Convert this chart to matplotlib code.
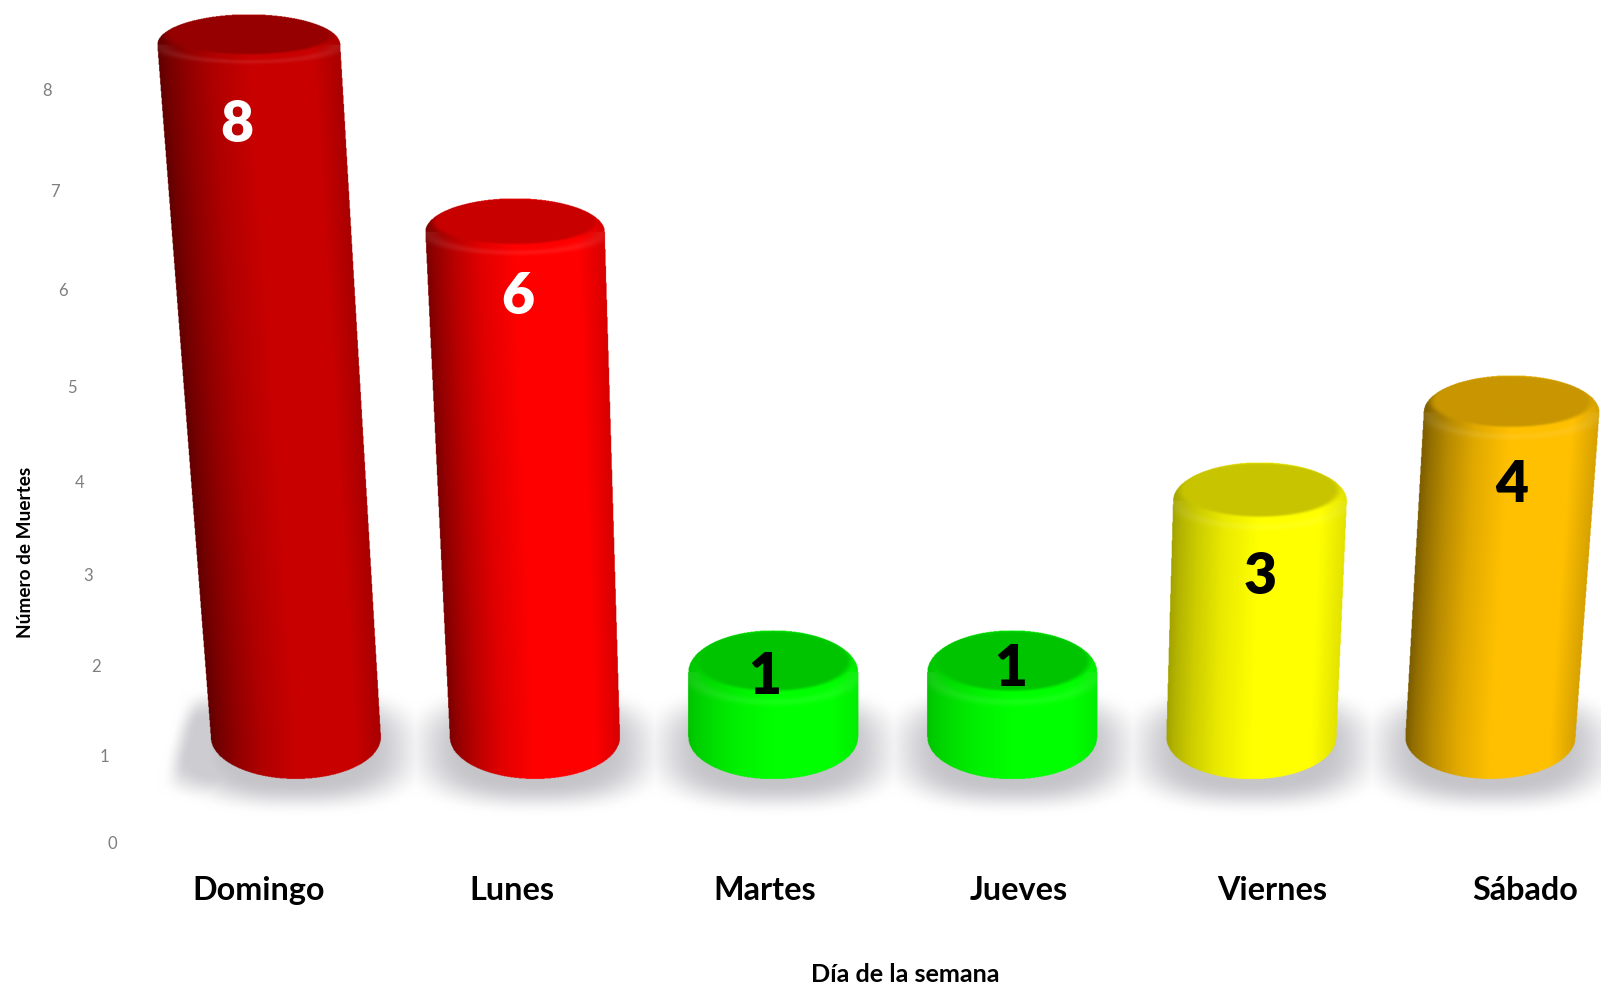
import numpy as np
import matplotlib
matplotlib.use('Agg')
import matplotlib.pyplot as plt
from matplotlib.colors import to_rgb

plt.rcParams['font.family'] = ['Lato', 'DejaVu Sans']

days = ['Domingo', 'Lunes', 'Martes', 'Jueves', 'Viernes', 'Sábado']
deaths = [8, 6, 1, 1, 3, 4]
y_ticks = [0, 1, 2, 3, 4, 5, 6, 7, 8]

body_colors = ['#c80000', '#ff0000', '#00ff00', '#00ff00', '#ffff00', '#ffc000']
cap_colors = ['#960000', '#c80000', '#00c400', '#00c400', '#c8c400', '#c89600']
label_colors = ['white', 'white', 'black', 'black', 'black', 'black']
edge_dark = [1.0, 1.0, 0.45, 0.45, 0.7, 1.0]

# offset del numero respecto a la tapa del cilindro
label_dx = [-11, 4, -8, -1, 1, 1]
label_dy = [105, 94, 42, 34, 109, 104]

BASE_X0 = 289
BASE_STEP = 234
BASE_Y = 722
BASE_A = 83
BASE_B = 41
VANISH_X = 860


def top_y(v):
    return 618 - 81 * (v - 1) - 0.75 * (v - 1) ** 2


def smooth(t):
    t = np.clip(t, 0, 1)
    return t * t * (3 - 2 * t)


fig = plt.figure(figsize=(16.01, 9.84), dpi=100)
ax = fig.add_axes([0, 0, 1, 1])
ax.axis('off')

# sombra del piso
xs = np.arange(0, 1568, 2.0)
ys = np.arange(650, 830, 2.0)
X, Y = np.meshgrid(xs, ys)
shadow = np.zeros_like(X)
centers = [BASE_X0 + BASE_STEP * i for i in range(len(days))]
for c in centers:
    d = (np.abs((X - c) / 138) ** 2.6 + np.abs((Y - 733) / 66) ** 2.6) ** (1 / 2.6)
    shadow = np.maximum(shadow, smooth((1 - d) / 0.5))
# cuña izquierda del piso
d = (np.abs((X - 225) / 90) ** 2.6 + np.abs((Y - 730) / 58) ** 2.6) ** (1 / 2.6)
shadow = np.maximum(shadow, 0.85 * smooth((1 - d) / 0.5))
edge = 172 + (692 - Y) * 20 / 76
shadow = shadow * smooth((X - edge) / 24)
rgba = np.ones(X.shape + (4,))
rgba[..., 0] = 1 - 0.23 * shadow
rgba[..., 1] = 1 - 0.23 * shadow
rgba[..., 2] = 1 - 0.21 * shadow
ax.imshow(rgba, extent=[0, 1568, 830, 650], aspect='auto', interpolation='bilinear', zorder=1)

# cilindros
for i, v in enumerate(deaths):
    bx = centers[i]
    tx = bx + 0.0115 * (bx - VANISH_X) * (v - 1)
    a = BASE_A + 0.9 * (v - 1)
    b = 37 - 1.7 * v
    b_up = 42.5 - 1.6 * v
    b_low = 2 * b - b_up
    top = top_y(v)
    cy = top + b_up

    x0, x1 = min(tx - a, bx - BASE_A) - 4, max(tx + a, bx + BASE_A) + 4
    y0, y1 = top - 4, BASE_Y + BASE_B + 4
    xs = np.arange(x0, x1, 0.5)
    ys = np.arange(y0, y1, 0.5)
    X, Y = np.meshgrid(xs, ys)

    f = np.clip((Y - cy) / (BASE_Y - cy), 0, 1)
    mid = tx + (bx - tx) * f
    half = a + (BASE_A - a) * f
    u = np.clip((X - (mid - half)) / (2 * half), 0, 1)

    mask = (np.abs(X - mid) <= half) & (Y >= cy) & (Y <= BASE_Y)
    mask |= ((X - tx) / a) ** 2 + ((Y - cy) / b_up) ** 2 <= 1
    mask |= ((X - bx) / BASE_A) ** 2 + ((Y - BASE_Y) / BASE_B) ** 2 <= 1

    shade = np.interp(u, [0, 0.05, 0.15, 0.3, 0.5, 0.85, 1], [0.48, 0.58, 0.72, 0.88, 1, 1, 0.84])
    shade = 1 - (1 - shade) * edge_dark[i]
    body = np.array(to_rgb(body_colors[i]))
    cap = np.array(to_rgb(cap_colors[i]))
    img = np.ones(X.shape + (4,))
    img[..., :3] = shade[..., None] * body

    # borde claro al frente de la tapa
    d_out = np.sqrt(((X - tx) / a) ** 2 + ((Y - cy) / b_low) ** 2)
    lip = np.exp(-((d_out - 0.98) / 0.12) ** 2) * (Y > cy)
    img[..., :3] += 0.08 * lip[..., None] * (1 - img[..., :3])

    # tapa
    di = np.sqrt(((X - tx) / (a * 0.93)) ** 2 + ((Y - (top + b * 0.84)) / (b * 0.84)) ** 2)
    w = smooth((1.05 - di) / 0.14)[..., None]
    img[..., :3] = img[..., :3] * (1 - w) + cap * w

    img[..., 3] = mask
    ax.imshow(img, extent=[x0, x1, y1, y0], aspect='auto', interpolation='hanning',
              interpolation_stage='rgba', zorder=2 + i)

    ax.text(tx + label_dx[i], top + label_dy[i] + 3, str(v), color=label_colors[i],
            fontsize=41, fontweight='heavy', ha='center', va='center', zorder=10)

# eje y inclinado
for t in y_ticks:
    ax.text(110 - 8 * t, 827 - 84.75 * t - 0.94 * t ** 2, str(t), color='#7f7f7f',
            fontsize=12, ha='center', va='center')

for i, d in enumerate(days):
    ax.text(253 + 248.2 * i, 872, d, fontsize=23.3, fontweight='bold', ha='center', va='center')

ax.text(887, 955, 'Día de la semana', fontsize=18.2, fontweight='bold', ha='center', va='center')
ax.text(25, 541, 'Número de Muertes', fontsize=13.7, fontweight='bold', rotation=90,
        ha='center', va='center')

ax.set_xlim(0, 1568)
ax.set_ylim(964, 0)
fig.savefig('out.png', dpi=100, facecolor='white')
